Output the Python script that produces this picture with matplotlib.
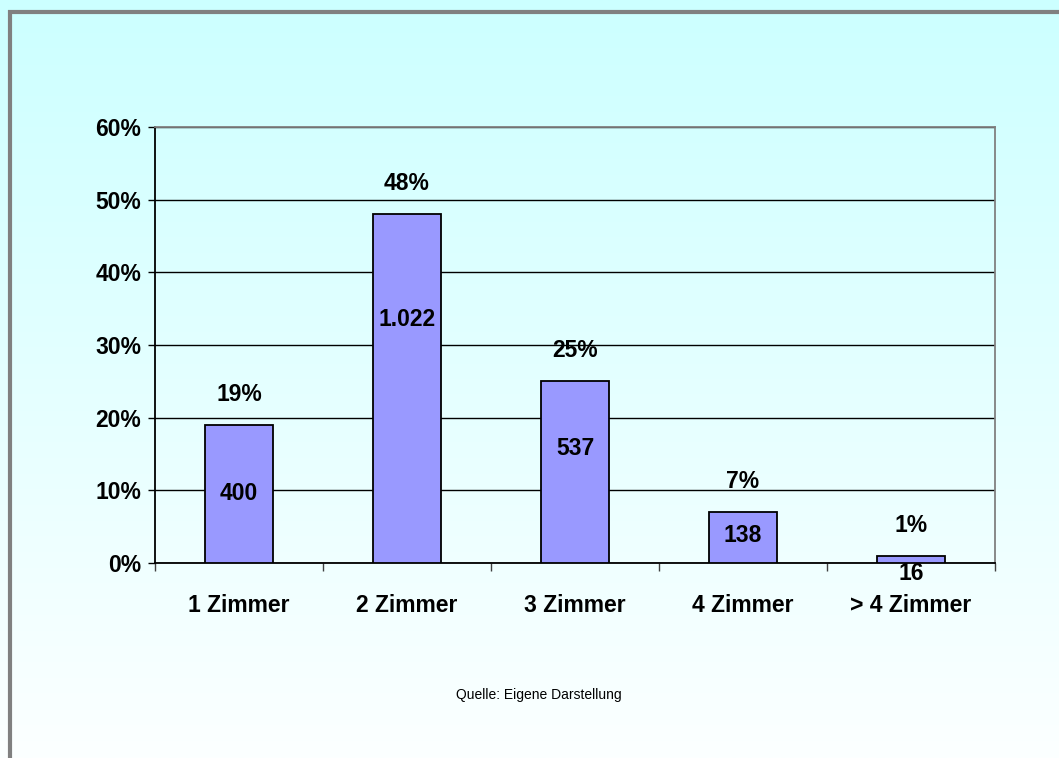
import numpy as np
import matplotlib
matplotlib.use("Agg")
import matplotlib.pyplot as plt
from matplotlib.ticker import PercentFormatter, FixedLocator

# data
categories = ["1 Zimmer", "2 Zimmer", "3 Zimmer", "4 Zimmer", "> 4 Zimmer"]
shares = [19, 48, 25, 7, 1]                 # percent
counts = ["400", "1.022", "537", "138", "16"]
count_label_y = [9.5, 33.5, 15.7, 3.8, -1.4]  # where the counts sit (percent units)

plt.rcParams['font.family'] = ['Liberation Sans', 'DejaVu Sans']
fs = 16.5

fig = plt.figure(figsize=(10.59, 7.58), dpi=100)

# background gradient, cyan at top to almost white at bottom
bg = fig.add_axes([0, 0, 1, 1], zorder=-10)
grad = np.linspace(0, 1, 256).reshape(-1, 1)
top = np.array([204, 255, 255]) / 255.0
bottom = np.array([252, 255, 255]) / 255.0
img = top[None, None, :] * (1 - grad[:, :, None]) + bottom[None, None, :] * grad[:, :, None]
bg.imshow(img, aspect='auto', extent=[0, 1, 0, 1])
bg.set_xlim(0, 1)
bg.set_ylim(0, 1)
bg.axis('off')
# grey frame on left and top
bg.plot([10 / 1059, 10 / 1059], [0, 1 - 10 / 758], color='#808080', lw=3, solid_capstyle='butt')
bg.plot([8 / 1059, 1], [1 - 12 / 758, 1 - 12 / 758], color='#808080', lw=3, solid_capstyle='butt')

ax = fig.add_axes([155 / 1059, 1 - 563 / 758, 840 / 1059, 436 / 758])
ax.patch.set_alpha(0)

x = np.arange(len(categories))
ax.bar(x, shares, width=0.4, color='#9999FF', edgecolor='black', linewidth=1.3, zorder=3)

for xi, s, c, cy in zip(x, shares, counts, count_label_y):
    ax.annotate(f"{s}%", (xi, s), xytext=(0, 22), textcoords='offset points',
                ha='center', va='center', fontsize=fs, fontweight='bold', zorder=4)
    ax.text(xi, cy, c, ha='center', va='center', fontsize=fs, fontweight='bold', zorder=4)

ax.set_xlim(-0.5, len(categories) - 0.5)
ax.set_ylim(0, 60)
ax.set_yticks(range(0, 61, 10))
ax.yaxis.set_major_formatter(PercentFormatter(decimals=0))
ax.grid(axis='y', color='black', linewidth=1, zorder=1)

ax.set_xticks(x)
ax.set_xticklabels(categories)
ax.xaxis.set_minor_locator(FixedLocator(np.arange(-0.5, len(categories), 1)))
ax.tick_params(axis='x', which='major', length=0, pad=22, labelsize=fs)
ax.tick_params(axis='x', which='minor', length=6, width=1, color='#404040')
ax.tick_params(axis='y', length=5, width=1, pad=5, labelsize=fs)
for lab in ax.get_xticklabels() + ax.get_yticklabels():
    lab.set_fontweight('bold')

ax.spines['left'].set_color('black')
ax.spines['bottom'].set_color('black')
ax.spines['top'].set_color('#808080')
ax.spines['right'].set_color('#808080')
for sp in ax.spines.values():
    sp.set_linewidth(1.3)

fig.text(539 / 1059, 1 - 695 / 758, "Quelle: Eigene Darstellung", ha='center', va='center', fontsize=10)

fig.savefig("out.png", dpi=100)
